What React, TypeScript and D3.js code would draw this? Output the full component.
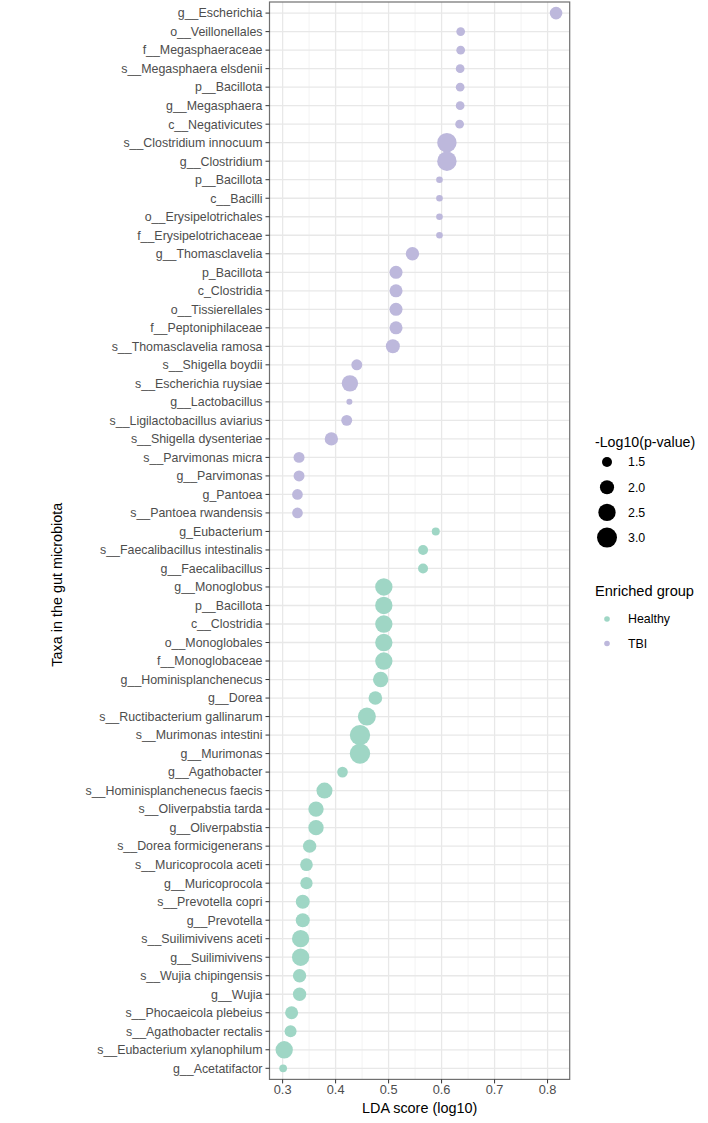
import * as d3 from "d3";

// taxa listed top to bottom, as they sit on the y axis
const taxa = [
  "g__Escherichia", "o__Veillonellales", "f__Megasphaeraceae", "s__Megasphaera elsdenii",
  "p__Bacillota", "g__Megasphaera", "c__Negativicutes", "s__Clostridium innocuum",
  "g__Clostridium", "p__Bacillota", "c__Bacilli", "o__Erysipelotrichales",
  "f__Erysipelotrichaceae", "g__Thomasclavelia", "p_Bacillota", "c_Clostridia",
  "o__Tissierellales", "f__Peptoniphilaceae", "s__Thomasclavelia ramosa", "s__Shigella boydii",
  "s__Escherichia ruysiae", "g__Lactobacillus", "s__Ligilactobacillus aviarius", "s__Shigella dysenteriae",
  "s__Parvimonas micra", "g__Parvimonas", "g_Pantoea", "s__Pantoea rwandensis",
  "g_Eubacterium", "s__Faecalibacillus intestinalis", "g__Faecalibacillus", "g__Monoglobus",
  "p__Bacillota", "c__Clostridia", "o__Monoglobales", "f__Monoglobaceae",
  "g__Hominisplanchenecus", "g__Dorea", "s__Ructibacterium gallinarum", "s__Murimonas intestini",
  "g__Murimonas", "g__Agathobacter", "s__Hominisplanchenecus faecis", "s__Oliverpabstia tarda",
  "g__Oliverpabstia", "s__Dorea formicigenerans", "s__Muricoprocola aceti", "g__Muricoprocola",
  "s__Prevotella copri", "g__Prevotella", "s__Suilimivivens aceti", "g__Suilimivivens",
  "s__Wujia chipingensis", "g__Wujia", "s__Phocaeicola plebeius", "s__Agathobacter rectalis",
  "s__Eubacterium xylanophilum", "g__Acetatifactor",
];

const ldaScore = [
  0.816, 0.636, 0.636, 0.635, 0.635, 0.635, 0.634, 0.610,
  0.610, 0.596, 0.596, 0.596, 0.596, 0.545, 0.514, 0.514,
  0.514, 0.514, 0.508, 0.440, 0.427, 0.426, 0.421, 0.392,
  0.331, 0.331, 0.328, 0.328,
  0.589, 0.565, 0.565, 0.491, 0.491, 0.491, 0.491, 0.491,
  0.485, 0.475, 0.459, 0.446, 0.446, 0.413, 0.379, 0.363,
  0.363, 0.351, 0.345, 0.345, 0.338, 0.338, 0.334, 0.334,
  0.332, 0.332, 0.317, 0.315, 0.303, 0.301,
];

const negLogP = [
  1.8, 1.38, 1.38, 1.38, 1.38, 1.38, 1.38, 2.88,
  2.88, 1.22, 1.22, 1.22, 1.22, 1.89, 1.85, 1.85,
  1.85, 1.85, 1.98, 1.6, 2.34, 1.18, 1.6, 1.89,
  1.6, 1.6, 1.57, 1.57,
  1.32, 1.5, 1.5, 2.5, 2.5, 2.5, 2.5, 2.5,
  2.18, 1.93, 2.62, 3.07, 3.07, 1.57, 2.28, 2.18,
  2.18, 1.89, 1.8, 1.75, 1.98, 1.98, 2.5, 2.5,
  1.89, 1.89, 1.85, 1.72, 2.5, 1.3,
];

const groupOf = taxa.map((_, i) => (i < 28 ? "TBI" : "Healthy"));

const groups = ["Healthy", "TBI"];
const groupColors = ["#9fd6c5", "#bdb8dc"];
const xTicks = [0.3, 0.4, 0.5, 0.6, 0.7, 0.8];
const xMinor = [0.35, 0.45, 0.55, 0.65, 0.75];
const sizeBreaks = [1.5, 2.0, 2.5, 3.0];

const font = "'Liberation Sans', Arial, Helvetica, sans-serif";

export default function App() {
  const width = 708;
  const height = 1123;
  const panel = { left: 269.5, right: 569.7, top: 2, bottom: 1079.4 };

  const [lo, hi] = d3.extent(ldaScore) as [number, number];
  const pad = (hi - lo) * 0.05;
  const x = d3.scaleLinear().domain([lo - pad, hi + pad]).range([panel.left, panel.right]);

  const y = d3
    .scalePoint<number>()
    .domain(d3.range(taxa.length))
    .range([panel.top, panel.bottom])
    .padding(0.6);

  // area grows linearly with -log10(p)
  const area = d3.scaleLinear().domain([1, 3]).range([0, 100]);
  const r = (v: number) => Math.sqrt(Math.max(0, area(v)));

  const color = d3.scaleOrdinal<string, string>().domain(groups).range(groupColors);

  const legendX = 595;

  return (
    <svg
      width={width}
      height={height}
      style={{ position: "absolute", left: 0, top: 0, background: "#fff" }}
      fontFamily={font}
    >
      {/* grid */}
      {xMinor.map((t) => (
        <line key={"mn" + t} x1={x(t)} x2={x(t)} y1={panel.top} y2={panel.bottom} stroke="#f0f0f0" strokeWidth={0.8} />
      ))}
      {xTicks.map((t) => (
        <line key={"mj" + t} x1={x(t)} x2={x(t)} y1={panel.top} y2={panel.bottom} stroke="#e8e8e8" strokeWidth={1.3} />
      ))}
      {taxa.map((_, i) => (
        <line key={"h" + i} x1={panel.left} x2={panel.right} y1={y(i)} y2={y(i)} stroke="#e8e8e8" strokeWidth={1.3} />
      ))}

      {/* points */}
      {taxa.map((_, i) => (
        <circle key={"c" + i} cx={x(ldaScore[i])} cy={y(i)} r={r(negLogP[i])} fill={color(groupOf[i])} />
      ))}

      <rect
        x={panel.left}
        y={panel.top}
        width={panel.right - panel.left}
        height={panel.bottom - panel.top}
        fill="none"
        stroke="#707070"
        strokeWidth={1.2}
      />

      {/* y axis */}
      {taxa.map((name, i) => (
        <g key={"yt" + i} transform={`translate(${panel.left},${y(i)})`}>
          <line x1={-4} x2={0} stroke="#333" strokeWidth={1} />
          <text x={-7} dy="0.35em" textAnchor="end" fontSize={12.4} fill="#4d4d4d">
            {name}
          </text>
        </g>
      ))}

      {/* x axis */}
      {xTicks.map((t) => (
        <g key={"xt" + t} transform={`translate(${x(t)},${panel.bottom})`}>
          <line y2={4} stroke="#333" strokeWidth={1} />
          <text y={15} textAnchor="middle" fontSize={12.8} fill="#4d4d4d">
            {t.toFixed(1)}
          </text>
        </g>
      ))}

      <text
        x={(panel.left + panel.right) / 2}
        y={1113}
        textAnchor="middle"
        fontSize={14.4}
        fill="#000"
      >
        LDA score (log10)
      </text>
      <text
        transform={`translate(62,${(panel.top + panel.bottom) / 2 + 44}) rotate(-90)`}
        textAnchor="middle"
        fontSize={14.4}
        fill="#000"
      >
        Taxa in the gut microbiota
      </text>

      {/* size legend */}
      <text x={legendX} y={447} fontSize={14.2} fill="#000">
        -Log10(p-value)
      </text>
      {sizeBreaks.map((b, i) => (
        <g key={"sz" + b} transform={`translate(0,${462 + i * 25.2})`}>
          <circle cx={607} cy={0} r={r(b)} fill="#000" />
          <text x={628} dy="0.35em" fontSize={12.4} fill="#000">
            {b.toFixed(1)}
          </text>
        </g>
      ))}

      {/* group legend */}
      <text x={legendX} y={596} fontSize={14.6} fill="#000">
        Enriched group
      </text>
      {groups.map((g, i) => (
        <g key={"gr" + g} transform={`translate(0,${619 + i * 24.5})`}>
          <circle cx={607} cy={0} r={2.8} fill={color(g)} />
          <text x={628} dy="0.35em" fontSize={12.4} fill="#000">
            {g}
          </text>
        </g>
      ))}
    </svg>
  );
}
